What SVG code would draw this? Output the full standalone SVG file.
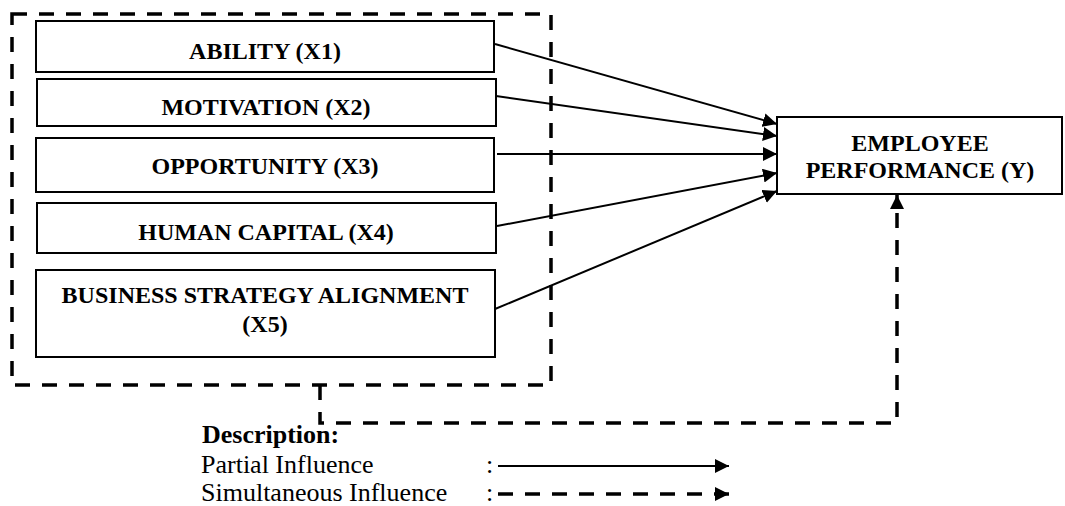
<svg xmlns="http://www.w3.org/2000/svg" width="1065" height="506" viewBox="0 0 1065 506">
<style>
.box{fill:#fff;stroke:#000;stroke-width:2}
.nt{font-family:"Liberation Serif","Times New Roman",serif;font-weight:bold;font-size:24px;fill:#000;text-anchor:middle}
.lt{font-family:"Liberation Serif","Times New Roman",serif;font-size:26px;fill:#000}
.ltb{font-family:"Liberation Serif","Times New Roman",serif;font-size:26px;font-weight:bold;fill:#000}
.solid{fill:none;stroke:#000;stroke-width:2}
.dash{fill:none;stroke:#000;stroke-width:3.5;stroke-dasharray:15 12}
</style>
<defs>
<marker id="ah" markerUnits="userSpaceOnUse" viewBox="0 0 14 14" refX="14" refY="7" markerWidth="14" markerHeight="14" orient="auto">
<path d="M0,0 L14,7 L0,14 Z" fill="#000" stroke="none"/>
</marker>
</defs>
<g id="frame">
<rect x="12" y="14" width="539" height="371" class="dash"/>
</g>
<g id="x1"><rect class="box" x="36" y="21" width="458" height="51"/><text class="nt" x="265" y="59">ABILITY (X1)</text></g>
<g id="x2"><rect class="box" x="37" y="79" width="459" height="47"/><text class="nt" x="266" y="115">MOTIVATION (X2)</text></g>
<g id="x3"><rect class="box" x="36" y="138" width="458" height="54"/><text class="nt" x="265" y="174">OPPORTUNITY (X3)</text></g>
<g id="x4"><rect class="box" x="37" y="203" width="459" height="50"/><text class="nt" x="266" y="240">HUMAN CAPITAL (X4)</text></g>
<g id="x5"><rect class="box" x="36" y="270" width="459" height="87"/><text class="nt" x="265" y="303">BUSINESS STRATEGY ALIGNMENT</text><text class="nt" x="265" y="332">(X5)</text></g>
<g id="y"><rect class="box" x="777" y="117" width="285" height="77"/><text class="nt" x="920" y="151">EMPLOYEE</text><text class="nt" x="920" y="178">PERFORMANCE (Y)</text></g>
<g id="connectors">
<line class="solid" x1="495" y1="44" x2="777" y2="124" marker-end="url(#ah)"/>
<line class="solid" x1="496" y1="96" x2="777" y2="136" marker-end="url(#ah)"/>
<line class="solid" x1="497" y1="154" x2="777" y2="154" marker-end="url(#ah)"/>
<line class="solid" x1="497" y1="226" x2="777" y2="173" marker-end="url(#ah)"/>
<line class="solid" x1="495" y1="309" x2="777" y2="191" marker-end="url(#ah)"/>
<polyline class="dash" points="320,385 320,423 897,423 897,195" marker-end="url(#ah)"/>
</g>
<g id="legend">
<text class="ltb" x="202" y="443">Description:</text>
<text class="lt" x="201" y="473">Partial Influence</text>
<text class="lt" x="201" y="501">Simultaneous Influence</text>
<text class="lt" x="486" y="473">:</text>
<text class="lt" x="486" y="501">:</text>
<line class="solid" x1="498" y1="466" x2="729" y2="466" marker-end="url(#ah)"/>
<line class="dash" x1="498" y1="494" x2="729" y2="494" marker-end="url(#ah)"/>
</g>
</svg>
